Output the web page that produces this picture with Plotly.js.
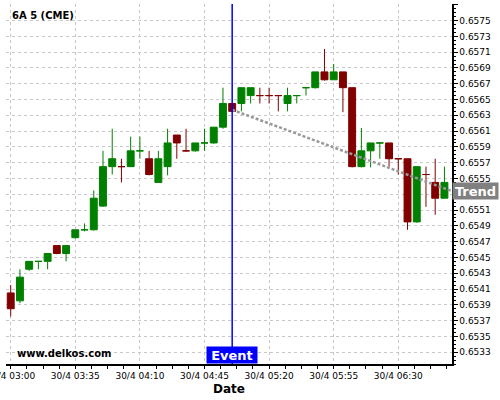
<!DOCTYPE html>
<html>
<head>
<meta charset="utf-8">
<script src="https://cdn.plot.ly/plotly-3.0.1.min.js"></script>
<style>html,body{margin:0;padding:0;background:#fff;}#chart{width:500px;height:400px;}</style>
</head>
<body>
<div id="chart"></div>
<script>
var day = '2024-04-30 ';
var times = ['03:00','03:05','03:10','03:15','03:20','03:25','03:30','03:35','03:40','03:45',
             '03:50','03:55','04:00','04:05','04:10','04:15','04:20','04:25','04:30','04:35',
             '04:40','04:45','04:50','04:55','05:00','05:05','05:10','05:15','05:20','05:25',
             '05:30','05:35','05:40','05:45','05:50','05:55','06:00','06:05','06:10','06:15',
             '06:20','06:25','06:30','06:35','06:40','06:45','06:50','06:55'];
var openP  = [0.65405,0.65395,0.65435,0.65445,0.65445,0.65465,0.65455,0.65475,0.65485,0.65485,
              0.65515,0.65565,0.65565,0.65565,0.65585,0.65575,0.65545,0.65565,0.65605,0.65585,
              0.65585,0.65595,0.65595,0.65615,0.65645,0.65645,0.65655,0.65655,0.65655,0.65655,
              0.65645,0.65655,0.65665,0.65665,0.65685,0.65675,0.65685,0.65665,0.65565,0.65585,
              0.65595,0.65595,0.65575,0.65575,0.65495,0.65555,0.65545,0.65525];
var highP  = [0.65415,0.65435,0.65445,0.65445,0.65455,0.65465,0.65465,0.65485,0.65493,0.65535,
              0.65585,0.65613,0.65575,0.65603,0.65603,0.65585,0.65585,0.65613,0.65605,0.65613,
              0.65595,0.65613,0.65615,0.65665,0.65645,0.65665,0.65665,0.65665,0.65665,0.65655,
              0.65665,0.65655,0.65665,0.65685,0.65714,0.65695,0.65685,0.65665,0.65614,0.65595,
              0.65595,0.65595,0.65575,0.65575,0.65565,0.65565,0.65575,0.65565];
var lowP   = [0.65375,0.65392,0.65433,0.65435,0.65435,0.65454,0.65445,0.65474,0.65483,0.65484,
              0.65514,0.65555,0.65545,0.65565,0.65575,0.65554,0.65545,0.65554,0.65575,0.65584,
              0.65584,0.65585,0.65594,0.65613,0.65635,0.65635,0.65645,0.65645,0.65645,0.65635,
              0.65635,0.65645,0.65655,0.65664,0.65674,0.65675,0.65634,0.65564,0.65564,0.65564,
              0.65575,0.65565,0.65555,0.65485,0.65494,0.65514,0.65504,0.65525];
var closeP = [0.65385,0.65425,0.65445,0.65445,0.65455,0.65455,0.65465,0.65485,0.65485,0.65525,
              0.65565,0.65575,0.65565,0.65585,0.65585,0.65555,0.65575,0.65595,0.65595,0.65585,
              0.65595,0.65595,0.65615,0.65645,0.65635,0.65665,0.65665,0.65655,0.65655,0.65655,
              0.65655,0.65655,0.65665,0.65685,0.65675,0.65685,0.65665,0.65565,0.65585,0.65595,
              0.65595,0.65575,0.65575,0.65495,0.65565,0.65555,0.65525,0.65545];
// price ticks; the 0.6553 label sits hidden behind the "Trend" tag in the reference
var priceTicks  = [0.6533,0.6535,0.6537,0.6539,0.6541,0.6543,0.6545,0.6547,0.6549,0.6551,0.6553,
                   0.6555,0.6557,0.6559,0.6561,0.6563,0.6565,0.6567,0.6569,0.6571,0.6573,0.6575,0.6577];
var priceLabels = ['0.6533','0.6535','0.6537','0.6539','0.6541','0.6543','0.6545','0.6547','0.6549','0.6551','',
                   '0.6555','0.6557','0.6559','0.6561','0.6563','0.6565','0.6567','0.6569','0.6571','0.6573','0.6575','0.6577'];
var eventTime = '05:00';
var trendTimes = ['05:00', '06:59'];
var trendPrices = [0.65637, 0.65534];
var symbolLabel = '6A 5 (CME)';
var watermark = 'www.delkos.com';
var eventLabel = 'Event';
var trendLabel = 'Trend';
var xTitle = 'Date';

var FONT = 'DejaVu Sans, Liberation Sans, sans-serif';
var GREEN = '#008000', RED = '#800000';
var xs = times.map(function(t){ return day + t; });

var candles = {
  type: 'candlestick',
  x: xs, open: openP, high: highP, low: lowP, close: closeP,
  increasing: {line: {color: GREEN, width: 1}, fillcolor: GREEN},
  decreasing: {line: {color: RED, width: 1}, fillcolor: RED},
  whiskerwidth: 0,
  showlegend: false,
  hoverinfo: 'skip'
};
var trend = {
  type: 'scatter', mode: 'lines',
  x: trendTimes.map(function(t){ return day + t; }),
  y: trendPrices,
  line: {color: '#999999', width: 2.5, dash: '3px,2px'},
  showlegend: false, hoverinfo: 'skip'
};

var layout = {
  width: 500, height: 400,
  margin: {l: 6, r: 48, t: 4, b: 36},
  paper_bgcolor: '#ffffff', plot_bgcolor: '#ffffff',
  font: {family: FONT, size: 9, color: '#000'},
  showlegend: false,
  boxgap: 0.25, boxgroupgap: 0,
  xaxis: {
    type: 'date',
    range: ['2024-04-30 02:57:27', '2024-04-30 06:59:06'],
    rangeslider: {visible: false},
    tickmode: 'linear', tick0: day + '03:00', dtick: 35 * 60 * 1000,
    tickformat: '%d/%-m %H:%M',
    ticklabeloverflow: 'allow',
    ticks: 'outside', ticklen: 3, tickcolor: '#000', tickwidth: 1,
    minor: {dtick: 8.75 * 60 * 1000, tick0: day + '03:00', ticks: 'outside', ticklen: 3, tickcolor: '#000', showgrid: false},
    showgrid: true, gridcolor: '#c8c8c8', griddash: '3px,3px', gridwidth: 1,
    showline: true, linecolor: '#000', linewidth: 1.5,
    zeroline: false,
    tickfont: {family: FONT, size: 9, color: '#000'},
    title: {text: xTitle, font: {family: FONT, size: 12, weight: 'bold', color: '#000'}, standoff: 4},
    fixedrange: true
  },
  yaxis: {
    side: 'right',
    range: [0.65315, 0.65771],
    tickmode: 'array', tickvals: priceTicks, ticktext: priceLabels,
    ticks: 'outside', ticklen: 4, tickcolor: '#000',
    minor: {dtick: 0.00005, tick0: 0.6533, ticks: 'outside', ticklen: 2, tickcolor: '#000', showgrid: false},
    showgrid: true, gridcolor: '#c8c8c8', griddash: '3px,3px', gridwidth: 1,
    showline: true, linecolor: '#000', linewidth: 1.5,
    zeroline: false,
    tickfont: {family: FONT, size: 9, color: '#000'},
    fixedrange: true
  },
  shapes: [{
    type: 'line', xref: 'x', yref: 'paper',
    x0: day + eventTime, x1: day + eventTime, y0: 0, y1: 1,
    line: {color: '#0000ff', width: 1.5}, layer: 'above'
  }],
  annotations: [
    {text: symbolLabel, xref: 'paper', yref: 'paper', x: 0.009, y: 0.9675, xanchor: 'left', yanchor: 'middle',
     showarrow: false, font: {family: FONT, size: 10, weight: 'bold', color: '#000'}},
    {text: watermark, xref: 'paper', yref: 'paper', x: 0.0202, y: 0.0278, xanchor: 'left', yanchor: 'middle',
     showarrow: false, font: {family: FONT, size: 10, weight: 'bold', color: '#000'}},
    {text: eventLabel, xref: 'x', yref: 'paper', x: day + eventTime, y: 0, xanchor: 'center', yanchor: 'bottom',
     showarrow: false, bgcolor: '#0000ff', borderpad: 1, width: 48, height: 14,
     font: {family: FONT, size: 13, weight: 'bold', color: '#ffffff'}},
    {text: trendLabel, xref: 'paper', yref: 'y', x: 1, y: trendPrices[1], xanchor: 'left', yanchor: 'middle',
     showarrow: false, bgcolor: '#808080', borderpad: 1, width: 43, height: 14,
     font: {family: FONT, size: 13, weight: 'bold', color: '#ffffff'}}
  ]
};

Plotly.newPlot('chart', [candles, trend], layout, {displayModeBar: false, staticPlot: true});
</script>
</body>
</html>
